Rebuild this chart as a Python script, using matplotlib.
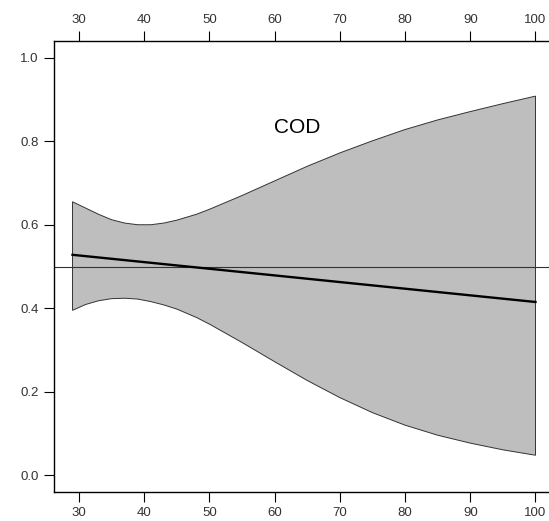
import numpy as np
import matplotlib
matplotlib.use("Agg")
import matplotlib.pyplot as plt

# band limits
x_pts = [29, 31, 33, 35, 37, 39, 41, 43, 45, 48, 50, 55, 60, 65, 70, 75,
         80, 85, 90, 95, 100]
upper = [0.655, 0.640, 0.625, 0.612, 0.604, 0.600, 0.600, 0.604, 0.611,
         0.625, 0.637, 0.670, 0.705, 0.740, 0.772, 0.801, 0.828, 0.851,
         0.871, 0.890, 0.908]
lower = [0.395, 0.409, 0.418, 0.423, 0.424, 0.422, 0.416, 0.408, 0.398,
         0.378, 0.362, 0.318, 0.272, 0.227, 0.186, 0.150, 0.120, 0.096,
         0.077, 0.061, 0.048]
fit_x = [29, 100]
fit_y = [0.528, 0.415]
ref_level = 0.5
label = "COD"

fig = plt.figure(figsize=(5.49, 5.21), dpi=100)
ax = fig.add_axes([54 / 549, 1 - 492 / 521, 500 / 549, 451 / 521])

poly_x = x_pts + x_pts[::-1]
poly_y = upper + lower[::-1]
ax.fill(poly_x, poly_y, facecolor="#bebebe", edgecolor="#333333", lw=0.7)
ax.axhline(ref_level, color="#333333", lw=0.8)
ax.plot(fit_x, fit_y, color="black", lw=1.7)
ax.text(63.4, 0.833, label, fontsize=15, ha="center", va="center",
        family="Liberation Sans")

ax.set_xlim(26.16, 102.84)
ax.set_ylim(-0.04, 1.04)
ax.set_xticks(range(30, 101, 10))
ax.set_yticks(np.arange(0, 1.01, 0.2))
ax.set_yticklabels([f"{v:.1f}" for v in np.arange(0, 1.01, 0.2)])
ax.tick_params(axis="both", direction="out", length=7, width=0.8,
               labelsize=9.5, labelcolor="#333333", pad=4)
ax.tick_params(axis="x", top=True, labeltop=True)
for lab in ax.get_xticklabels() + ax.get_yticklabels():
    lab.set_family("Liberation Sans")
for s in ax.spines.values():
    s.set_linewidth(1.0)

plt.savefig("out.png", dpi=100)
plt.close()
